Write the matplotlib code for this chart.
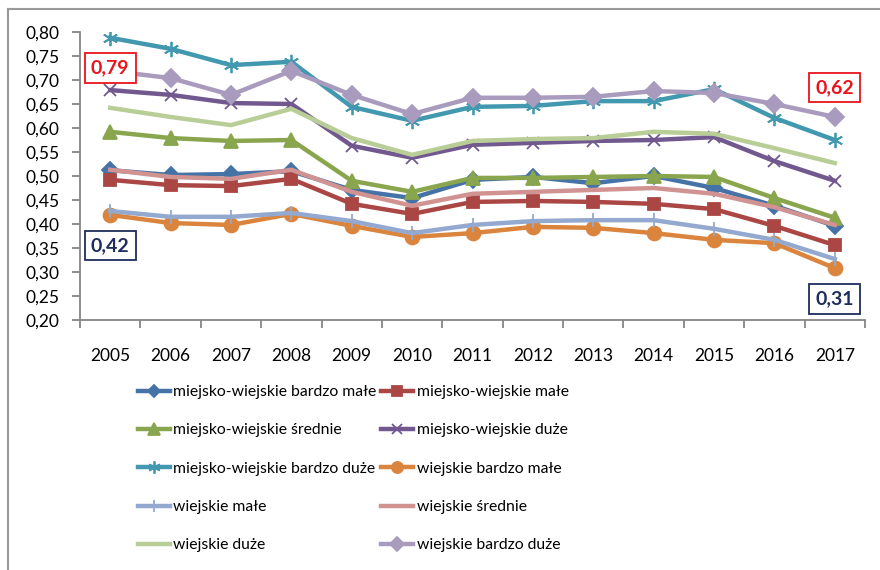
import matplotlib
matplotlib.use('Agg')
import matplotlib.pyplot as plt
from matplotlib.lines import Line2D

plt.rcParams['font.family'] = ['Lato', 'DejaVu Sans']

years = [str(y) for y in range(2005, 2018)]

mw_bardzo_male = [0.512, 0.502, 0.504, 0.510, 0.471, 0.454, 0.492, 0.498, 0.485, 0.500, 0.475, 0.438, 0.396]
mw_male = [0.492, 0.481, 0.479, 0.494, 0.442, 0.421, 0.446, 0.448, 0.446, 0.442, 0.431, 0.396, 0.356]
mw_srednie = [0.592, 0.579, 0.573, 0.575, 0.490, 0.467, 0.496, 0.496, 0.498, 0.500, 0.498, 0.454, 0.413]
mw_duze = [0.679, 0.669, 0.652, 0.650, 0.563, 0.538, 0.565, 0.569, 0.573, 0.575, 0.581, 0.531, 0.490]
mw_bardzo_duze = [0.788, 0.765, 0.731, 0.738, 0.644, 0.615, 0.644, 0.646, 0.656, 0.656, 0.681, 0.621, 0.575]
w_bardzo_male = [0.419, 0.402, 0.398, 0.421, 0.396, 0.373, 0.381, 0.394, 0.392, 0.381, 0.367, 0.360, 0.308]
w_male = [0.427, 0.415, 0.415, 0.423, 0.406, 0.381, 0.398, 0.406, 0.408, 0.408, 0.390, 0.367, 0.327]
w_srednie = [0.513, 0.498, 0.494, 0.513, 0.467, 0.438, 0.463, 0.467, 0.471, 0.475, 0.463, 0.435, 0.398]
w_duze = [0.642, 0.623, 0.606, 0.640, 0.579, 0.544, 0.573, 0.577, 0.579, 0.592, 0.588, 0.558, 0.527]
w_bardzo_duze = [0.719, 0.704, 0.669, 0.719, 0.669, 0.629, 0.663, 0.663, 0.665, 0.677, 0.673, 0.650, 0.623]

series = [
    ('miejsko-wiejskie bardzo małe', mw_bardzo_male, '#4572A7', 'D', 8),
    ('miejsko-wiejskie małe', mw_male, '#AA4643', 's', 9),
    ('miejsko-wiejskie średnie', mw_srednie, '#89A54E', '^', 10),
    ('miejsko-wiejskie duże', mw_duze, '#71588F', 'x', 9),
    ('miejsko-wiejskie bardzo duże', mw_bardzo_duze, '#4198AF', (6, 2, 0), 11),
    ('wiejskie bardzo małe', w_bardzo_male, '#DB843D', 'o', 10),
    ('wiejskie małe', w_male, '#93A9CF', '|', 10),
    ('wiejskie średnie', w_srednie, '#D19392', None, 0),
    ('wiejskie duże', w_duze, '#B9CD96', None, 0),
    ('wiejskie bardzo duże', w_bardzo_duze, '#A99BBD', 'D', 9),
]

fig = plt.figure(figsize=(8.8, 5.7), dpi=100)
ax = fig.add_axes([80 / 880, 1 - 320 / 570, 785 / 880, 288 / 570])

handles = []
x = list(range(len(years)))
for name, vals, color, marker, ms in series:
    h, = ax.plot(x, vals, color=color, lw=3.2, marker=marker, markersize=ms,
                 markeredgewidth=1.3, markeredgecolor=color, label=name)
    handles.append(h)

ax.set_ylim(0.20, 0.80)
ax.set_xlim(-0.5, len(years) - 0.5)
yt = [0.20 + 0.05 * i for i in range(13)]
ax.set_yticks(yt)
ax.set_yticklabels([('%.2f' % v).replace('.', ',') for v in yt], fontsize=12.5)
ax.set_xticks(x)
ax.set_xticklabels(years, fontsize=12.5)
ax.set_xticks([i - 0.5 for i in range(len(years) + 1)], minor=True)
ax.tick_params(axis='x', which='major', length=0, pad=20)
ax.tick_params(axis='x', which='minor', length=6, color='#868686', width=1.3)
ax.tick_params(axis='y', length=6, color='#868686', width=1.3, pad=9)
for s in ['top', 'right']:
    ax.spines[s].set_visible(False)
for s in ['left', 'bottom']:
    ax.spines[s].set_color('#868686')
    ax.spines[s].set_linewidth(1.3)

def label(xi, yi, txt, col):
    ax.text(xi, yi, txt, color=col, fontsize=14, fontweight='bold', ha='center', va='center',
            bbox=dict(boxstyle='square,pad=0.32', fc='white', ec=col, lw=1.3))

label(0, 0.725, '0,79', '#E8141B')
label(0, 0.355, '0,42', '#1F2D5C')
label(12, 0.684, '0,62', '#E8141B')
label(12, 0.244, '0,31', '#1F2D5C')

order = [0, 2, 4, 6, 8, 1, 3, 5, 7, 9]
fig.legend([handles[i] for i in order], [series[i][0] for i in order], ncol=2,
           loc='upper left', bbox_to_anchor=(124 / 880, 1 - 371 / 570), frameon=False,
           fontsize=11.3, handlelength=2.0, handletextpad=0.25, columnspacing=0.3,
           labelspacing=1.55, markerscale=0.8)

# chart frame: only top and left edges are visible in the picture
fig.add_artist(Line2D([8 / 880, 1], [1 - 8.5 / 570] * 2, color='#999999', lw=1.5))
fig.add_artist(Line2D([8 / 880] * 2, [0, 1 - 8.5 / 570], color='#999999', lw=1.5))

fig.savefig('out.png', dpi=100)
